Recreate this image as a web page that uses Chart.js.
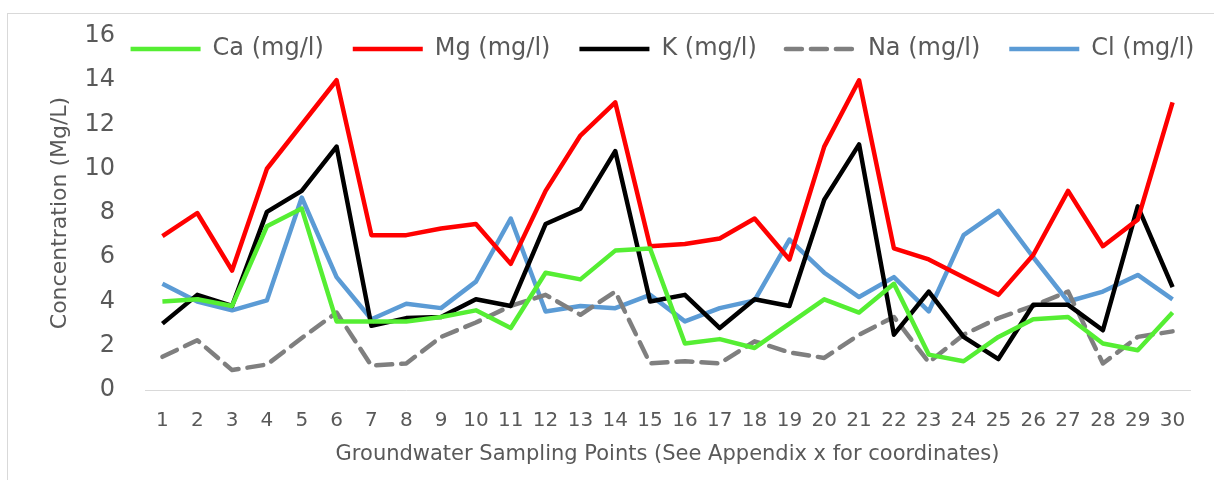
<!DOCTYPE html>
<html>
<head>
<meta charset="utf-8">
<script src="https://cdn.jsdelivr.net/npm/chart.js@4"></script>
<style>
  body { margin: 0; background: #fff; }
  #frame { position: absolute; left: 7px; top: 13px; width: 1300px; height: 500px; border: 1px solid #d9d9d9; }
  #wrap { position: absolute; left: 0; top: 0; width: 1214px; height: 480px; }
</style>
</head>
<body>
<div id="frame"></div>
<div id="wrap"><canvas id="line_chart"></canvas></div>
<script>
var points = ["1","2","3","4","5","6","7","8","9","10","11","12","13","14","15","16","17","18","19","20","21","22","23","24","25","26","27","28","29","30"];
var ca = [4.0, 4.1, 3.8, 7.4, 8.2, 3.1, 3.1, 3.1, 3.3, 3.6, 2.8, 5.3, 5.0, 6.3, 6.4, 2.1, 2.3, 1.9, 3.0, 4.1, 3.5, 4.8, 1.6, 1.3, 2.4, 3.2, 3.3, 2.1, 1.8, 3.5];
var mg = [6.95, 8.0, 5.4, 10.0, 12.0, 14.0, 7.0, 7.0, 7.3, 7.5, 5.7, 9.0, 11.5, 13.0, 6.5, 6.6, 6.85, 7.75, 5.9, 11.0, 14.0, 6.4, 5.9, 5.1, 4.3, 6.1, 9.0, 6.5, 7.7, 13.0];
var k = [3.0, 4.3, 3.8, 8.05, 9.0, 11.0, 2.9, 3.25, 3.3, 4.1, 3.8, 7.5, 8.2, 10.8, 4.0, 4.3, 2.8, 4.1, 3.8, 8.6, 11.1, 2.5, 4.45, 2.4, 1.4, 3.85, 3.85, 2.7, 8.3, 4.65];
var na = [1.5, 2.25, 0.9, 1.15, 2.35, 3.5, 1.1, 1.2, 2.4, 3.05, 3.8, 4.3, 3.4, 4.45, 1.2, 1.3, 1.2, 2.2, 1.7, 1.45, 2.5, 3.3, 1.25, 2.5, 3.25, 3.8, 4.45, 1.2, 2.4, 2.65];
var cl = [4.8, 4.0, 3.6, 4.05, 8.7, 5.1, 3.2, 3.9, 3.7, 4.9, 7.75, 3.55, 3.8, 3.7, 4.3, 3.1, 3.7, 4.05, 6.8, 5.3, 4.2, 5.1, 3.55, 7.0, 8.1, 6.0, 4.0, 4.45, 5.2, 4.1];
var yTicks = [0, 2, 4, 6, 8, 10, 12, 14, 16];

var txt = '#595959';

function series(label, data, color, dash) {
  return {
    label: label,
    data: data,
    borderColor: color,
    backgroundColor: color,
    borderWidth: 4.5,
    borderDash: dash || [],
    borderCapStyle: dash ? 'round' : 'butt',
    borderJoinStyle: 'round',
    pointRadius: 0,
    pointHoverRadius: 0,
    tension: 0,
    fill: false
  };
}

// Excel puts the legend inside the plot; the layout only reserves a thin strip,
// then the legend is moved onto the top of the plot
var legendInPlot = {
  id: 'legendInPlot',
  afterLayout: function(chart) {
    var lg = chart.legend;
    lg.top = 8;
    lg.bottom = lg.top + 60;
    lg.left += 46;
    lg.right += 46;
  }
};

function create_Line() {
  new Chart(document.getElementById("line_chart"), {
    type: 'line',
    data: {
      labels: points,
      datasets: [
        series('Ca (mg/l)', ca, '#55ee33'),
        series('Mg (mg/l)', mg, '#ff0000'),
        series('K (mg/l)', k, '#000000'),
        series('Na (mg/l)', na, '#7f7f7f', [16, 9]),
        series('Cl (mg/l)', cl, '#5b9bd5')
      ]
    },
    plugins: [legendInPlot],
    options: {
      responsive: false,
      animation: false,
      layout: { padding: { left: 43, right: 24, top: 0, bottom: 9 } },
      plugins: {
        tooltip: { enabled: false },
        legend: {
          position: 'top',
          maxHeight: 36,
          labels: {
            usePointStyle: true,
            pointStyle: 'line',
            pointStyleWidth: 70,
            boxHeight: 24,
            padding: 29,
            color: txt,
            font: { family: 'DejaVu Sans', size: 24 },
            generateLabels: function(chart) {
              var items = Chart.defaults.plugins.legend.labels.generateLabels(chart);
              items.forEach(function(it) {
                var ds = chart.data.datasets[it.datasetIndex];
                it.lineDash = ds.borderDash;
                it.lineWidth = ds.borderWidth;
                it.lineCap = ds.borderCapStyle;
                it.strokeStyle = ds.borderColor;
              });
              return items;
            }
          }
        }
      },
      scales: {
        x: {
          offset: true,
          grid: { display: false, drawTicks: true, tickLength: 15 },
          border: { display: true, color: '#d9d9d9', width: 1 },
          ticks: {
            color: txt,
            padding: 4,
            maxRotation: 0,
            autoSkip: false,
            font: { family: 'DejaVu Sans', size: 20 }
          },
          title: {
            display: true,
            text: 'Groundwater Sampling Points (See Appendix x for coordinates)',
            color: txt,
            font: { family: 'DejaVu Sans', size: 21 }
          },
          afterFit: function(s) { s.height = 81; }
        },
        y: {
          min: 0,
          max: 16,
          afterBuildTicks: function(s) { s.ticks = yTicks.map(function(v) { return { value: v }; }); },
          grid: { display: false, drawTicks: true, tickLength: 26 },
          border: { display: false },
          ticks: {
            color: txt,
            padding: 4,
            font: { family: 'DejaVu Sans', size: 24 }
          },
          title: {
            display: true,
            text: 'Concentration (Mg/L)',
            color: txt,
            font: { family: 'DejaVu Sans', size: 22 }
          },
          afterFit: function(s) { s.width = 102; }
        }
      }
    }
  });
}

var cv = document.getElementById("line_chart");
cv.width = 1214;
cv.height = 480;
document.addEventListener('DOMContentLoaded', create_Line);
</script>
</body>
</html>
